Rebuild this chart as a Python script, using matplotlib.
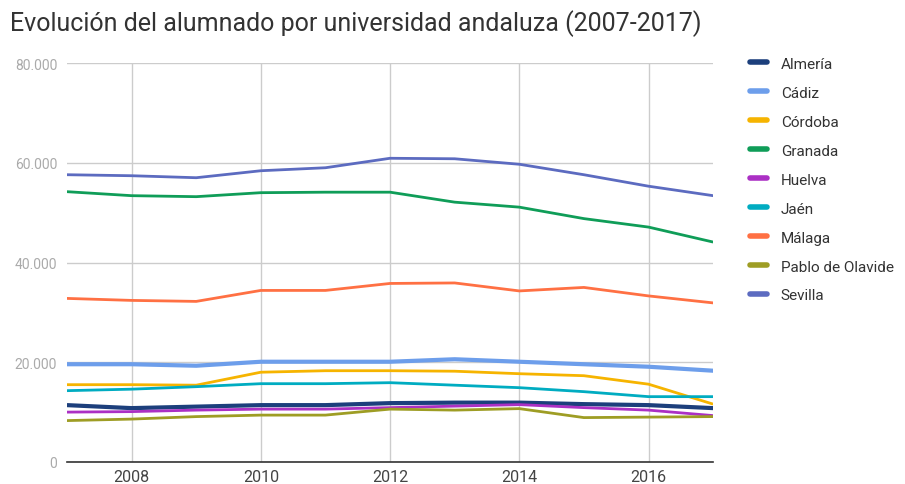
import matplotlib.pyplot as plt
from matplotlib.ticker import FuncFormatter

plt.rcParams['font.family'] = ['Roboto', 'DejaVu Sans']

years = list(range(2007, 2018))

almeria = [11400, 10800, 11100, 11400, 11400, 11800, 11900, 11900, 11600, 11400, 10800]
cadiz = [19600, 19600, 19300, 20100, 20100, 20100, 20600, 20100, 19600, 19100, 18300]
cordoba = [15500, 15500, 15400, 18000, 18300, 18300, 18200, 17700, 17300, 15600, 11600]
granada = [54200, 53400, 53200, 54000, 54100, 54100, 52100, 51100, 48800, 47100, 44100]
huelva = [10000, 10100, 10400, 10600, 10600, 10900, 11200, 11500, 10900, 10400, 9300]
jaen = [14300, 14600, 15100, 15700, 15700, 15900, 15400, 14900, 14100, 13100, 13100]
malaga = [32800, 32400, 32200, 34400, 34400, 35800, 35900, 34300, 35000, 33300, 31900]
olavide = [8300, 8600, 9100, 9400, 9400, 10600, 10400, 10700, 8900, 9000, 9100]
sevilla = [57600, 57400, 57000, 58400, 59000, 60900, 60800, 59700, 57600, 55300, 53400]

series = [
    ('Almería', almeria, '#1c3f7c', 3.0),
    ('Cádiz', cadiz, '#6d9eeb', 3.0),
    ('Córdoba', cordoba, '#f6b400', 2.0),
    ('Granada', granada, '#0f9d58', 2.0),
    ('Huelva', huelva, '#ab30c4', 2.0),
    ('Jaén', jaen, '#00acc1', 2.0),
    ('Málaga', malaga, '#ff7043', 2.0),
    ('Pablo de Olavide', olavide, '#9e9d24', 2.0),
    ('Sevilla', sevilla, '#5c6bc0', 2.0),
]

fig = plt.figure(figsize=(9.05, 4.85), dpi=100)
ax = fig.add_axes([0.074, 0.0454, 0.714, 0.8226])

for name, vals, col, lw in series:
    ax.plot(years, vals, color=col, lw=lw, label=name, solid_capstyle='butt')

ax.set_xlim(2007, 2017)
ax.set_ylim(0, 80000)
ax.set_xticks([2008, 2010, 2012, 2014, 2016])
ax.set_yticks([0, 20000, 40000, 60000, 80000])
ax.yaxis.set_major_formatter(FuncFormatter(lambda v, p: f'{int(v):,}'.replace(',', '.')))
ax.grid(True, color='#cccccc', lw=1)
ax.set_axisbelow(True)
for s in ['left', 'right', 'top']:
    ax.spines[s].set_visible(False)
ax.spines['bottom'].set_color('#333333')
ax.spines['bottom'].set_linewidth(1.2)
ax.tick_params(axis='both', length=0)
ax.tick_params(axis='x', labelsize=11.5, labelcolor='#444444', pad=5)
ax.tick_params(axis='y', labelsize=10, labelcolor='#aaaaaa', pad=7)

fig.text(0.011, 0.951, 'Evolución del alumnado por universidad andaluza (2007-2017)',
         fontsize=18, color='#333333', va='center', ha='left')

leg = ax.legend(loc='upper left', bbox_to_anchor=(0.829, 0.881), bbox_transform=fig.transFigure,
                frameon=False, fontsize=11, handlelength=1.1, handletextpad=0.9,
                labelspacing=0.98, borderaxespad=0, borderpad=0)
for h in leg.get_lines():
    h.set_linewidth(4)
    h.set_solid_capstyle('round')
for t in leg.get_texts():
    t.set_color('#333333')

fig.savefig('out.png', dpi=100)
